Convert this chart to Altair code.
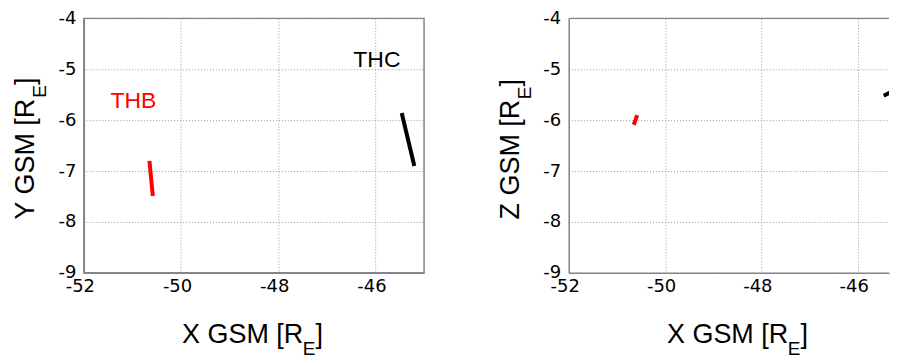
import altair as alt
import pandas as pd

# ---- data ----
thb_x = [-50.65, -50.615, -50.58]
thb_y = [-6.80, -7.15, -7.49]
thb_z = [-6.09, -6.00, -5.90]
thc_x = [-45.46, -45.33, -45.20]
thc_y = [-5.86, -6.38, -6.90]
thc_z = [-5.52, -5.46, -5.39]

craft_names = ["THB", "THC"]
craft_colors = ["#ff0000", "#000000"]
label_x = [-50.98, -45.97]
label_y = [-5.765, -4.96]

x_ticks = [-52, -50, -48, -46]
y_ticks = [-9, -8, -7, -6, -5, -4]

FONT = "Liberation Sans"
TICKFONT = "DejaVu Sans"
GRAY = "#858585"

rows = []
for name, xs, ys, zs in [("THB", thb_x, thb_y, thb_z), ("THC", thc_x, thc_y, thc_z)]:
    for i, (a, b, c) in enumerate(zip(xs, ys, zs)):
        rows.append({"craft": name, "i": i, "x": a, "y": b, "z": c})
df = pd.DataFrame(rows)
labels = pd.DataFrame({"craft": craft_names, "x": label_x, "y": label_y})

color = alt.Color("craft:N", scale=alt.Scale(domain=craft_names, range=craft_colors), legend=None)

W1, W2, H = 341, 321, 255
XT_Y = 70          # baseline of the x-axis title below the plot
SUB_DY = 12.3      # subscript drop


def xaxis():
    return alt.Axis(values=x_ticks, grid=True, gridDash=[1, 2], gridColor="#9a9a9a",
                    ticks=False, tickSize=0, labelFontSize=18, labelFont=TICKFONT,
                    labelColor="black", labelPadding=5, labelOffset=-4, labelFlush=False,
                    labelExpr="toString(datum.value)",
                    domain=True, domainColor=GRAY, domainWidth=1.5,
                    title="X GSM [R", titleFont=FONT, titleFontSize=27, titleFontWeight="normal",
                    titleColor="black", titleX=98, titleY=XT_Y, titleAlign="left",
                    titleBaseline="alphabetic")


def yaxis(t):
    return alt.Axis(values=y_ticks, grid=True, gridDash=[1, 2], gridColor="#9a9a9a",
                    ticks=False, tickSize=0, labelFontSize=18, labelFont=TICKFONT,
                    labelColor="black", labelPadding=8, labelBaseline="middle", labelFlush=False,
                    labelExpr="toString(datum.value)",
                    domain=True, domainColor=GRAY,
                    domainWidth=1.5, title=t, titleFont=FONT, titleFontSize=27,
                    titleFontWeight="normal", titleColor="black", titleAngle=270, titleX=-50,
                    titleY=201, titleAlign="left", titleBaseline="alphabetic")


one = alt.Data(values=[{"k": 1}])


def sub_text(txt, x, y, size, angle=0):
    kw = dict(font=FONT, fontSize=size, align="left", baseline="alphabetic", color="black")
    if angle:
        kw["angle"] = angle
    return alt.Chart(one).mark_text(**kw).encode(
        x=alt.value(x), y=alt.value(y), text=alt.value(txt))


def panel(ycol, ytitle, xdom, width, ylen, top_rule):
    xs = alt.X("x:Q", scale=alt.Scale(domain=xdom, nice=False, zero=False), axis=xaxis())
    ys = alt.Y(f"{ycol}:Q", scale=alt.Scale(domain=[-9, -4], nice=False, zero=False),
               axis=yaxis(ytitle))
    lines = alt.Chart(df).mark_line(strokeWidth=4, clip=True).encode(
        x=xs, y=ys, color=color, detail="craft:N", order="i:Q")
    layers = [lines]
    if ycol == "y":
        layers.append(alt.Chart(labels).mark_text(font=FONT, fontSize=23, align="center",
                                                  baseline="alphabetic").encode(
            x="x:Q", y="y:Q", text="craft:N", color=color))
    # subscripts of the axis titles
    xe = 98 + 121.5
    layers.append(sub_text("E", xe, H + XT_Y + SUB_DY, 19))
    layers.append(sub_text("]", xe + 12.7, H + XT_Y, 27))
    ye = 201 - ylen
    layers.append(sub_text("E", -50 + 12.3, ye, 19, 270))
    layers.append(sub_text("]", -50, ye - 12.7, 27, 270))
    if top_rule:
        layers.append(alt.Chart(one).mark_rule(color=GRAY, strokeWidth=1.5).encode(
            x=alt.value(0), x2=alt.value(width), y=alt.value(0)))
    return layers


left = alt.layer(*panel("y", "Y GSM [R", [-52, -45], W1, 121.5, False)).properties(
    width=W1, height=H, view=alt.ViewBackground(stroke=GRAY, strokeWidth=1.5))
right = alt.layer(*panel("z", "Z GSM [R", [-52, -45.35], W2, 120.0, True)).properties(
    width=W2, height=H, view=alt.ViewBackground(stroke="transparent"))

chart = alt.hconcat(left, right, spacing=145, bounds="flush").properties(
    padding={"left": 3, "top": 0, "right": 0, "bottom": 0},
    background="white",
)

chart.save("out.html", embed_options={"renderer": "svg", "actions": False})
